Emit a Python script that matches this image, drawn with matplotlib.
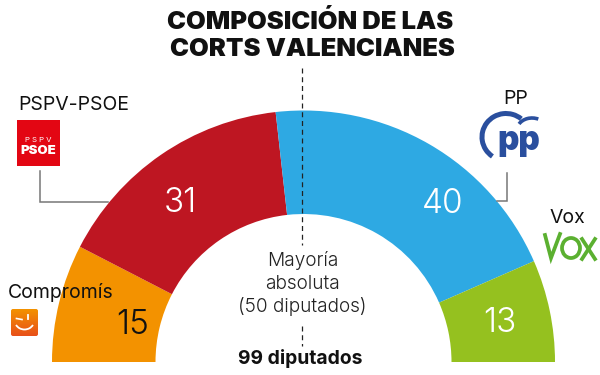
import numpy as np
import matplotlib
matplotlib.use("Agg")
import matplotlib.pyplot as plt
from matplotlib.patches import Wedge, Rectangle, FancyBboxPatch, Arc, Ellipse

plt.rcParams['font.family'] = ['Inter', 'Liberation Sans', 'DejaVu Sans']

parties = ["Compromís", "PSPV-PSOE", "PP", "Vox"]
seats = [15, 31, 40, 13]
colors = ["#F39200", "#BE1622", "#2EA9E3", "#95C11F"]
num_colors = ["#111111", "#ffffff", "#ffffff", "#ffffff"]
title_lines = ["COMPOSICIÓN DE LAS", "CORTS VALENCIANES"]
majority_lines = ["Mayoría", "absoluta", "(50 diputados)"]
total_label = "99 diputados"

fig = plt.figure(figsize=(6, 3.75), dpi=100)
ax = fig.add_axes([0, 0, 1, 1])
ax.set_xlim(0, 600)
ax.set_ylim(375, 0)
ax.axis("off")

cx, cy, R, r = 303.5, 362, 251.5, 148
total = sum(seats)
start = 180.0
for s, c in zip(seats, colors):
    sweep = 180.0 * s / total
    ax.add_patch(Wedge((cx, cy), R, start, start + sweep, width=R - r, fc=c, ec="none"))
    start += sweep

# value labels
label_pos = [(133, 325), (180, 203), (443, 204), (500, 323)]
for s, tc, (x, y) in zip(seats, num_colors, label_pos):
    ax.text(x, y, str(s), color=tc, fontsize=24, fontweight=300, ha="center", va="center")

# title
for line, x, y in zip(title_lines, [310, 312], [22, 50]):
    ax.text(x, y, line, fontsize=18.4, fontweight=900, ha="center", va="center", color="#111111")

# majority dashed line
ax.plot([301.5, 301.5], [68, 245], color="#222222", lw=0.9, ls=(0, (4, 3)), zorder=5)
ax.plot([301.5, 301.5], [326, 346], color="#222222", lw=0.9, ls=(0, (4, 3)), zorder=5)
for line, y in zip(majority_lines, [261, 284, 307]):
    ax.text(302.5, y, line, fontsize=13.7, fontweight=300, ha="center", va="center", color="#222222")
ax.text(300.5, 358, total_label, fontsize=13.9, fontweight=700, ha="center", va="center", color="#111111")

# party names
ax.text(18, 104.5, parties[1], fontsize=14, ha="left", va="center", color="#111111")
ax.text(516, 98.5, parties[2], fontsize=14, ha="center", va="center", color="#111111")
ax.text(567, 218, parties[3], fontsize=14, ha="center", va="center", color="#111111")
ax.text(8, 292, parties[0], fontsize=14, ha="left", va="center", color="#111111", zorder=6)

# leader lines
ax.plot([40, 40, 108], [171, 202, 202], color="#777777", lw=1.1, solid_joinstyle="miter")
ax.plot([507, 507, 497], [173, 201, 201], color="#777777", lw=1.1, solid_joinstyle="miter")

# PSOE logo
ax.add_patch(Rectangle((16.5, 120), 43.5, 46, fc="#E30613", ec="none"))
ax.text(38, 140, "P S P V", color="white", fontsize=5.6, ha="center", va="center")
ax.text(38, 151, "PSOE", color="white", fontsize=9.5, fontweight=900, ha="center", va="center")

# Compromís logo
grad = np.linspace(0, 1, 64).reshape(-1, 1)
cmap = matplotlib.colors.LinearSegmentedColormap.from_list("c", ["#F39200", "#E8501A"])
im = ax.imshow(grad, extent=(11, 38, 336, 309), cmap=cmap, aspect="auto", zorder=3)
box = FancyBboxPatch((11, 309), 27, 27, boxstyle="round,pad=0,rounding_size=2", fc="none", ec="none")
ax.add_patch(box)
im.set_clip_path(box)
ax.add_patch(Arc((24.5, 321), 19, 17, theta1=25, theta2=155, color="white", lw=1.3, zorder=4))
ax.plot([16.5, 22], [318.5, 319.5], color="white", lw=1.2, zorder=4)
ax.plot([28, 28], [315, 318.5], color="white", lw=1.3, zorder=4)
ax.set_xlim(0, 600)
ax.set_ylim(375, 0)

# PP logo
ax.add_patch(Arc((506, 137), 48, 47, theta1=125, theta2=310, color="#2A4F9E", lw=3.6))
ax.add_patch(Arc((532, 130), 30, 24, theta1=205, theta2=300, color="#2A4F9E", lw=2.6))
ax.text(518.5, 141, "pp", color="#2A4F9E", fontsize=24, fontweight=900, ha="center", va="center")

# VOX logo
vox = "#5BB030"
ax.plot([545, 551, 560], [235, 258, 234], color=vox, lw=2.7, solid_joinstyle="miter")
ax.add_patch(Ellipse((571, 248), 18, 20, fc="none", ec=vox, lw=2.7))
ax.plot([582, 595], [239, 259], color=vox, lw=2.7)
ax.plot([595, 582], [239, 259], color=vox, lw=2.7)

fig.savefig("out.png", dpi=100)
